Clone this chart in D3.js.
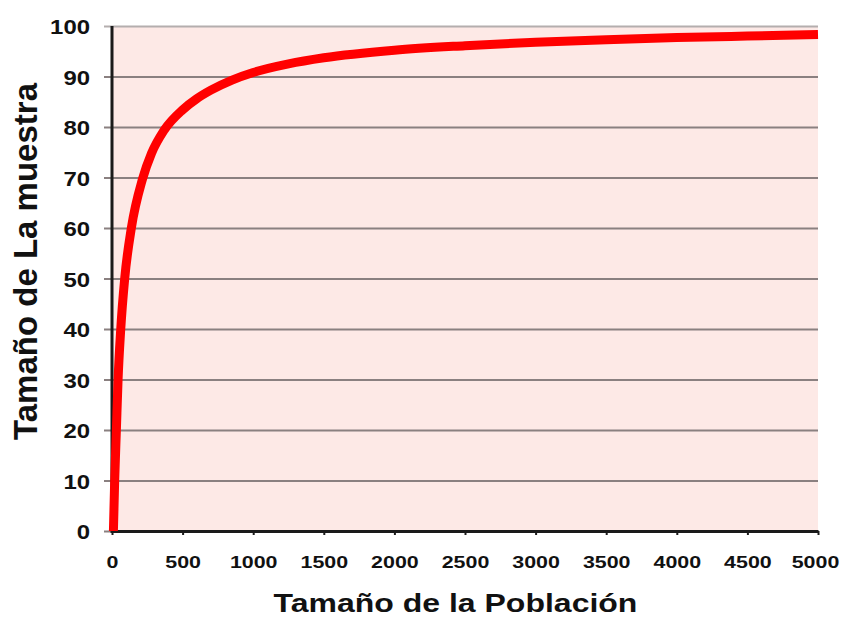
<!DOCTYPE html>
<html><head><meta charset="utf-8">
<script src="https://cdn.jsdelivr.net/npm/d3@7"></script>
<style>html,body{margin:0;padding:0;background:#fff;}svg{display:block;}</style>
</head><body>
<svg id="chart" width="843" height="617"></svg>
<script>
// Data
const poblacion = [10, 19, 31, 43, 62, 90, 137, 215, 280, 370, 500, 600, 700, 850, 1000, 1250, 1500, 2000, 2500, 3000, 3500, 4000, 4500, 5000];
const muestra   = [0, 10, 20, 30, 40, 50, 60, 69.6, 74.8, 79.4, 83.4, 85.6, 87.3, 89.3, 90.8, 92.5, 93.7, 95.2, 96.1, 96.8, 97.3, 97.7, 98.0, 98.3];
const xTicks = [0, 500, 1000, 1500, 2000, 2500, 3000, 3500, 4000, 4500, 5000];
const yTicks = [0, 10, 20, 30, 40, 50, 60, 70, 80, 90, 100];
const xTitle = "Tamaño de la Población";
const yTitle = "Tamaño de La muestra";

const W = 843, H = 617;
const m = {left: 112, top: 26, right: 25, bottom: 86};
const iw = W - m.left - m.right, ih = H - m.top - m.bottom;
const svg = d3.select("#chart");
const g = svg.append("g").attr("transform", `translate(${m.left},${m.top})`);

const x = d3.scaleLinear().domain([0, 5000]).range([0, iw]);
const y = d3.scaleLinear().domain([0, 100]).range([ih, 0]);

g.append("rect").attr("width", iw).attr("height", ih).attr("fill", "#fde9e6");

// y axis with gridlines
const ya = g.append("g").call(d3.axisLeft(y).tickValues(yTicks).tickFormat(d3.format("d")).tickSize(-iw).tickSizeOuter(0).tickPadding(0));
ya.select(".domain").remove();
ya.selectAll(".tick line")
  .attr("x1", -8)
  .attr("stroke", d => d === 100 ? "#b4aeae" : "#8a8080")
  .attr("stroke-width", 2);
ya.selectAll(".tick text")
  .attr("font-family", "'Liberation Sans', Arial, sans-serif")
  .attr("font-weight", "bold")
  .attr("font-size", 21)
  .attr("fill", "#111")
  .attr("text-anchor", "end")
  .attr("x", 0).attr("dy", "0.36em")
  .attr("transform", "translate(-22,0) scale(1.14,1)");

// x axis
const xa = g.append("g").attr("transform", `translate(0,${ih})`)
  .call(d3.axisBottom(x).tickValues(xTicks).tickFormat(d3.format("d")).tickSize(4).tickSizeOuter(0).tickPadding(0));
xa.select(".domain").attr("stroke", "#1a1a1a").attr("stroke-width", 3);
xa.selectAll(".tick line").attr("stroke", "#1a1a1a").attr("stroke-width", 2);
xa.selectAll(".tick text")
  .attr("font-family", "'Liberation Sans', Arial, sans-serif")
  .attr("font-weight", "bold")
  .attr("font-size", 17)
  .attr("fill", "#111")
  .attr("y", 0).attr("dy", 0)
  .attr("transform", d => d === 5000 ? "translate(-3,37) scale(1.26,1)" : "translate(0,37) scale(1.26,1)");

// left axis line
g.append("line").attr("x1", 0).attr("x2", 0).attr("y1", 0).attr("y2", ih + 2)
  .attr("stroke", "#1a1a1a").attr("stroke-width", 3);

// curve
const pts = poblacion.map((p, i) => [p, muestra[i]]);
g.append("path").datum(pts)
  .attr("fill", "none").attr("stroke", "#ff0000").attr("stroke-width", 9)
  .attr("stroke-linejoin", "round")
  .attr("d", d3.line().x(d => x(d[0])).y(d => y(d[1])).curve(d3.curveMonotoneX));

// titles
svg.append("text").text(xTitle)
  .attr("font-family", "'Liberation Sans', Arial, sans-serif").attr("font-weight", "bold")
  .attr("font-size", 25).attr("fill", "#111").attr("text-anchor", "middle")
  .attr("transform", "translate(455.5,612) scale(1.28,1)");
svg.append("text").text(yTitle)
  .attr("font-family", "'Liberation Sans', Arial, sans-serif").attr("font-weight", "bold")
  .attr("font-size", 33).attr("fill", "#111").attr("text-anchor", "middle")
  .attr("transform", "translate(37,261.5) rotate(-90)");
</script>
</body></html>
